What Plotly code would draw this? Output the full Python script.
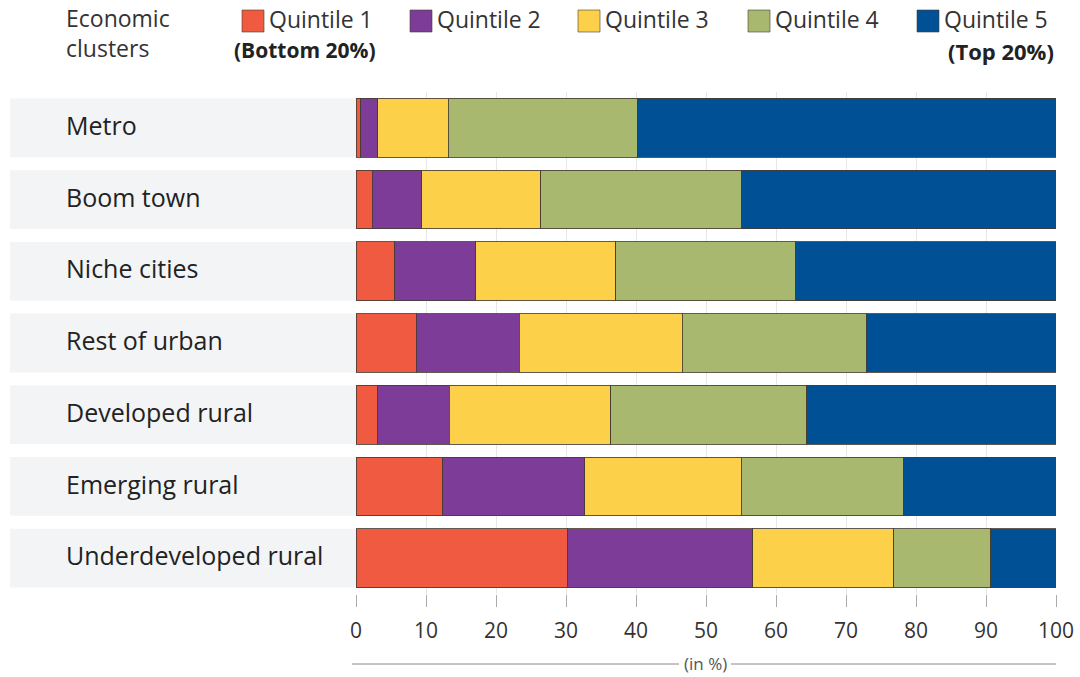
import plotly.graph_objects as go

categories = ["Metro", "Boom town", "Niche cities", "Rest of urban",
              "Developed rural", "Emerging rural", "Underdeveloped rural"]
quintile_names = ["Quintile 1", "Quintile 2", "Quintile 3", "Quintile 4", "Quintile 5"]
q1 = [0.7, 2.3, 5.5, 8.6, 3.0, 12.4, 30.2]
q2 = [2.4, 7.1, 11.6, 14.7, 10.3, 20.3, 26.5]
q3 = [10.1, 17.0, 20.0, 23.3, 23.1, 22.3, 20.1]
q4 = [27.0, 28.6, 25.7, 26.3, 28.0, 23.2, 13.9]
q5 = [59.8, 45.0, 37.2, 27.1, 35.6, 21.8, 9.3]
colors = ["#f05a40", "#7d3c98", "#fdd04a", "#a8b96f", "#005096"]
x_ticks = [0, 10, 20, 30, 40, 50, 60, 70, 80, 90, 100]

W, H = 1080, 677
L, R, T, B = 356, 24, 92, 83
PW, PH = W - L - R, H - T - B

def px(x):
    return (x - L) / PW

def py(y):
    return 1 - (y - T) / PH

fig = go.Figure()
for name, vals, col in zip(quintile_names, [q1, q2, q3, q4, q5], colors):
    fig.add_trace(go.Bar(
        y=categories, x=vals, name=name, orientation="h",
        marker=dict(color=col, line=dict(color="rgba(70,60,50,0.85)", width=1)),
        showlegend=False,
    ))

shapes = []
annotations = []
for i, cat in enumerate(categories):
    shapes.append(dict(type="rect", xref="paper", yref="y",
                       x0=px(10), x1=px(356), y0=i - 0.41, y1=i + 0.41,
                       fillcolor="#f3f4f6", line=dict(width=0), layer="below"))
    annotations.append(dict(text=cat, xref="paper", yref="y", x=px(64), y=i - 0.04,
                            xanchor="left", yanchor="middle", showarrow=False,
                            font=dict(family="Open Sans", size=25, color="#222222")))

# legend
leg_sq = [242, 410, 578, 748, 917]
for name, col, sx in zip(quintile_names, colors, leg_sq):
    shapes.append(dict(type="rect", xref="paper", yref="paper",
                       x0=px(sx), x1=px(sx + 22), y0=py(32), y1=py(10),
                       fillcolor=col, line=dict(color="rgba(70,60,50,0.6)", width=1)))
    annotations.append(dict(text=name, xref="paper", yref="paper", x=px(sx + 25), y=py(19),
                            xanchor="left", yanchor="middle", showarrow=False,
                            font=dict(family="Open Sans", size=23, color="#333333")))
annotations.append(dict(text="<b>(Bottom 20%)</b>", xref="paper", yref="paper", x=px(232), y=py(50),
                        xanchor="left", yanchor="middle", showarrow=False,
                        font=dict(family="Open Sans", size=21, color="#222222")))
annotations.append(dict(text="<b>(Top 20%)</b>", xref="paper", yref="paper", x=px(1056), y=py(51),
                        xanchor="right", yanchor="middle", showarrow=False,
                        font=dict(family="Open Sans", size=22, color="#222222")))
annotations.append(dict(text="Economic<br>clusters", xref="paper", yref="paper", x=px(64), y=py(33),
                        xanchor="left", yanchor="middle", showarrow=False, align="left",
                        font=dict(family="Open Sans", size=23, color="#333333")))

# axis title with rule
annotations.append(dict(text="(in %)", xref="paper", yref="paper", x=px(705), y=py(663),
                        xanchor="center", yanchor="middle", showarrow=False,
                        font=dict(family="Open Sans", size=17, color="#555555")))
shapes.append(dict(type="line", xref="paper", yref="paper", x0=px(352), x1=px(679),
                   y0=py(664), y1=py(664), line=dict(color="#888888", width=1)))
shapes.append(dict(type="line", xref="paper", yref="paper", x0=px(731), x1=px(1056),
                   y0=py(664), y1=py(664), line=dict(color="#888888", width=1)))

fig.update_layout(
    width=W, height=H,
    margin=dict(l=L, r=R, t=T, b=B, pad=0, autoexpand=False),
    barmode="stack", bargap=0.18,
    plot_bgcolor="white", paper_bgcolor="white",
    shapes=shapes, annotations=annotations,
    xaxis=dict(range=[0, 100], tickvals=x_ticks, showgrid=True, gridcolor="#e6e6e6",
               gridwidth=1, zeroline=False, ticks="outside", ticklen=12, automargin=False,
               tickcolor="#aaaaaa", tickwidth=1, showline=False, ticklabelstandoff=6,
               tickfont=dict(family="Open Sans", size=21, color="#333333")),
    yaxis=dict(categoryorder="array", categoryarray=categories, range=[6.5, -0.5],
               showticklabels=False, showgrid=False, zeroline=False, ticks="", automargin=False),
)

fig.write_html("out.html", config={"displayModeBar": False},
               post_script="document.body.style.margin='0';document.body.style.overflow='hidden';")
